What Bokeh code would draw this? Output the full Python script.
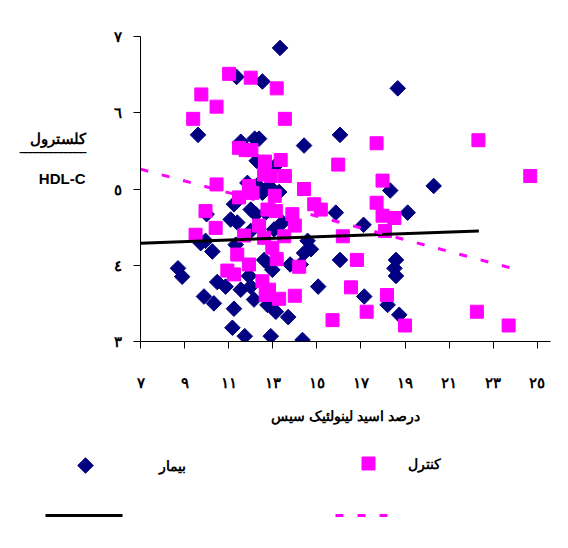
import math
from bokeh.plotting import figure
from bokeh.layouts import column
from bokeh.models import FixedTicker, Range1d
from bokeh.core.properties import value
from bokeh.embed import file_html
from bokeh.resources import INLINE

# patients (diamonds)
pat_x = [13.33, 11.36, 12.53, 18.67, 9.61, 11.55, 12.18, 12.38, 14.42, 16.05,
         12.27, 13.14, 11.85, 12.30, 12.53, 12.83, 13.29, 11.24, 10.00, 12.00,
         12.23, 12.68, 13.44, 11.09, 11.39, 15.86, 18.33, 20.30, 19.12, 17.12,
         13.06, 12.00, 9.73, 9.95, 11.32, 10.26, 14.58, 14.73, 14.42, 12.61,
         12.98, 12.76, 13.79, 14.27, 16.05, 18.59, 18.52, 18.59, 8.70, 8.89,
         10.48, 10.86, 11.55, 12.00, 12.15, 11.92, 9.88, 10.33, 15.06, 17.15,
         18.21, 18.74, 11.24, 12.76, 13.14, 13.70, 11.17, 11.73, 12.91, 14.35]
pat_y = [6.85, 6.47, 6.41, 6.32, 5.71, 5.62, 5.66, 5.66, 5.57, 5.71,
         5.37, 5.31, 5.08, 5.05, 4.95, 5.04, 4.96, 4.80, 4.67, 4.73,
         4.67, 4.69, 4.56, 4.60, 4.56, 4.69, 4.98, 5.04, 4.69, 4.53,
         4.47, 4.45, 4.29, 4.32, 4.27, 4.18, 4.32, 4.21, 4.16, 4.07,
         3.94, 4.03, 4.01, 4.01, 4.07, 4.07, 3.96, 3.86, 3.96, 3.85,
         3.78, 3.72, 3.68, 3.72, 3.55, 3.86, 3.59, 3.50, 3.72, 3.59,
         3.48, 3.35, 3.43, 3.48, 3.39, 3.32, 3.18, 3.07, 3.07, 3.02]

# controls (squares)
ctl_x = [11.02, 12.00, 13.18, 9.76, 10.45, 9.39, 13.55, 22.33, 17.71, 11.47,
         11.77, 12.03, 12.65, 13.36, 15.97, 12.61, 12.91, 13.55, 17.98, 24.68,
         10.45, 11.92, 14.42, 11.47, 12.08, 13.09, 14.88, 15.18, 17.71, 17.98,
         18.52, 12.76, 13.14, 13.89, 14.00, 12.38, 9.95, 10.41, 9.50, 11.70,
         12.61, 13.52, 16.18, 18.09, 12.98, 11.39, 13.18, 11.92, 10.94, 11.24,
         14.20, 16.82, 12.53, 12.83, 12.68, 13.29, 14.00, 16.55, 18.18, 17.26,
         15.71, 19.00, 22.26, 23.70]
ctl_y = [6.51, 6.46, 6.32, 6.24, 6.08, 5.92, 5.92, 5.64, 5.60, 5.54,
         5.51, 5.51, 5.36, 5.38, 5.32, 5.19, 5.17, 5.17, 5.11, 5.17,
         5.06, 5.04, 5.00, 4.89, 4.95, 4.91, 4.80, 4.73, 4.82, 4.65,
         4.62, 4.73, 4.71, 4.67, 4.52, 4.52, 4.71, 4.49, 4.40, 4.39,
         4.36, 4.38, 4.38, 4.45, 4.23, 4.14, 4.08, 4.01, 3.93, 3.88,
         3.98, 4.07, 3.79, 3.68, 3.61, 3.56, 3.60, 3.71, 3.61, 3.39,
         3.28, 3.21, 3.39, 3.21]

# trend lines (end points)
pat_fit_x = [7, 22.35]
pat_fit_y = [4.29, 4.45]
ctl_fit_x = [7, 24.12]
ctl_fit_y = [5.26, 3.94]

x_ticks = [7, 9, 11, 13, 15, 17, 19, 21, 23, 25]
y_ticks = [3, 4, 5, 6, 7]
series_names = ["بیمار", "کنترل"]
ar = str.maketrans("0123456789", "٠١٢٣٤٥٦٧٨٩")

FONT = "Liberation Sans"
NAVY = "#000080"
PINK = "#FF00FF"

p = figure(width=560, height=430, output_backend="svg", toolbar_location=None,
           x_range=Range1d(7, 25.6), y_range=Range1d(3, 7),
           min_border_left=140, min_border_right=10, min_border_top=36,
           min_border_bottom=89, frame_align=False)
p.outline_line_color = None
p.xgrid.visible = False
p.ygrid.visible = False

for ax in (p.xaxis, p.yaxis):
    ax.axis_line_color = "black"
    ax.major_tick_line_color = "black"
    ax.major_tick_out = 7
    ax.major_tick_in = 0
    ax.minor_tick_line_color = None
    ax.major_label_text_font = FONT
    ax.major_label_text_font_style = "bold"
    ax.major_label_text_font_size = "15px"
    ax.major_label_text_color = "black"
    ax.axis_label_text_font = FONT
    ax.axis_label_text_font_style = "bold"
    ax.axis_label_text_font_size = "14px"
    ax.axis_label_text_color = "black"

p.xaxis.ticker = FixedTicker(ticks=x_ticks)
p.xaxis.major_label_overrides = {t: str(t).translate(ar) for t in x_ticks}
p.xaxis.major_label_standoff = 25
p.yaxis.ticker = FixedTicker(ticks=y_ticks)
p.yaxis.major_label_overrides = {t: str(t).translate(ar) for t in y_ticks}
p.yaxis.major_label_standoff = 12

p.xaxis.axis_label = "درصد اسید لینولئیک سیس"
p.xaxis.axis_label_standoff = 14
p.yaxis.axis_label = "کلسترول\n‾‾‾‾‾‾‾‾‾‾‾‾‾\nHDL-C\n\n\n"
p.yaxis.axis_label_orientation = "horizontal"
p.yaxis.axis_label_text_font_size = "15px"
p.yaxis.axis_label_standoff = 25

p.scatter(pat_x, pat_y, marker="square", angle=math.pi / 4, size=11, color=NAVY)
p.scatter(ctl_x, ctl_y, marker="square", size=13, color=PINK)
p.line(pat_fit_x, pat_fit_y, line_color="black", line_width=3)
p.line(ctl_fit_x, ctl_fit_y, line_color=PINK, line_width=3, line_dash="8 14")

# legend strip, in page pixel coordinates (y grows downward)
q = figure(width=560, height=110, output_backend="svg", toolbar_location=None,
           x_range=Range1d(0, 560), y_range=Range1d(540, 430),
           min_border=0, frame_align=False)
q.axis.visible = False
q.grid.visible = False
q.outline_line_color = None
q.scatter([85], [465], marker="square", angle=math.pi / 4, size=11, color=NAVY)
q.scatter([368], [463], marker="square", size=13, color=PINK)
q.text([185, 440], [465, 463], text=series_names, text_align="right",
       text_baseline="middle", text_font=value(FONT), text_font_style="bold",
       text_font_size="14px", text_color="black")
q.line([45, 122], [515, 515], line_color="black", line_width=3)
q.line([335, 392], [515, 515], line_color=PINK, line_width=3, line_dash="8 14")

open("out.html", "w").write(file_html(column(p, q, spacing=0), INLINE))
